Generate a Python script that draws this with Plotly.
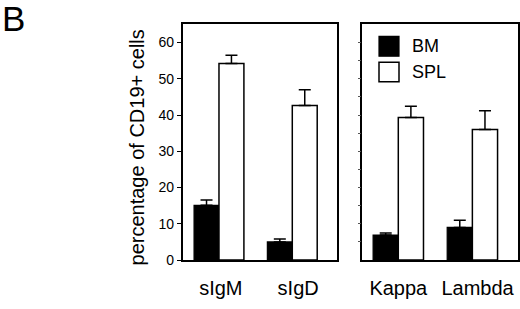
import plotly.graph_objects as go

left_cats = ["sIgM", "sIgD"]
right_cats = ["Kappa", "Lambda"]
bm_left = [15.1, 5.0]
bm_left_err = [1.5, 0.8]
spl_left = [54.2, 42.6]
spl_left_err = [2.3, 4.4]
bm_right = [6.9, 9.0]
bm_right_err = [0.6, 2.0]
spl_right = [39.3, 36.0]
spl_right_err = [3.1, 5.2]

FONT = "Liberation Sans, Arial, Helvetica, sans-serif"
W = 0.34

fig = go.Figure()

def add_pair(cats, bm, bme, spl, sple, xa, ya):
    xs = list(range(len(cats)))
    fig.add_trace(go.Bar(
        x=xs, y=bm, width=W, offset=-W, name="BM",
        marker=dict(color="black", line=dict(color="black", width=1.2)),
        error_y=dict(type="data", array=bme, arrayminus=[0]*len(bme), symmetric=False,
                     color="black", thickness=1.5, width=6),
        xaxis=xa, yaxis=ya, showlegend=False))
    fig.add_trace(go.Bar(
        x=xs, y=spl, width=W, offset=0, name="SPL",
        marker=dict(color="white", line=dict(color="black", width=1.5)),
        error_y=dict(type="data", array=sple, arrayminus=[0]*len(sple), symmetric=False,
                     color="black", thickness=1.5, width=6),
        xaxis=xa, yaxis=ya, showlegend=False))

add_pair(left_cats, bm_left, bm_left_err, spl_left, spl_left_err, "x", "y")
add_pair(right_cats, bm_right, bm_right_err, spl_right, spl_right_err, "x2", "y2")

H = 309.0
ydom = [1 - 267 / H, 1 - 25 / H]
axcommon = dict(showline=True, linecolor="black", linewidth=1.5, mirror=True,
                showgrid=False, zeroline=False)

fig.update_layout(
    width=520, height=309,
    margin=dict(l=0, r=0, t=0, b=0),
    paper_bgcolor="white", plot_bgcolor="white",
    font=dict(family=FONT, color="black"),
    showlegend=False,
    xaxis=dict(domain=[182.7 / 520, 337 / 520], range=[-0.495, 1.61],
               tickvals=[0.025, 1.08], ticktext=left_cats, ticks="",
               tickfont=dict(size=20), ticklabelstandoff=9, **axcommon),
    yaxis=dict(domain=ydom, range=[0, 65], tickvals=[0, 10, 20, 30, 40, 50, 60],
               ticks="outside", ticklen=4, tickwidth=1.2, tickcolor="black",
               tickfont=dict(size=14), **axcommon),
    xaxis2=dict(domain=[362.3 / 520, 518.3 / 520], range=[-0.486, 1.62], anchor="y2",
                tickvals=[0, 1.07], ticktext=right_cats, ticks="",
                tickfont=dict(size=20), ticklabelstandoff=9, **axcommon),
    yaxis2=dict(domain=ydom, range=[0, 65], anchor="x2",
                tickvals=[5, 10, 15, 20, 25, 30, 35, 40, 45, 50, 55, 60],
                ticks="outside", ticklen=3, tickwidth=1, tickcolor="#555",
                showticklabels=False, **axcommon),
)

# y axis title
fig.add_annotation(x=136.7 / 520, y=1 - 151.7 / H, xref="paper", yref="paper",
                   text="percentage of CD19+ cells", showarrow=False, textangle=-90,
                   xanchor="center", yanchor="middle", font=dict(size=20, family=FONT))

# legend drawn as swatches + text inside right panel
fig.add_shape(type="rect", xref="paper", yref="paper",
              x0=379 / 520, x1=399 / 520, y0=1 - 57.7 / H, y1=1 - 37.3 / H,
              fillcolor="black", line=dict(color="black", width=1.2))
fig.add_shape(type="rect", xref="paper", yref="paper",
              x0=379 / 520, x1=399 / 520, y0=1 - 84 / H, y1=1 - 64 / H,
              fillcolor="white", line=dict(color="black", width=1.5))
fig.add_annotation(x=410 / 520, y=1 - 47.5 / H, xref="paper", yref="paper",
                   text="BM", showarrow=False, xanchor="left", yanchor="middle",
                   font=dict(size=18, family=FONT))
fig.add_annotation(x=410 / 520, y=1 - 74 / H, xref="paper", yref="paper",
                   text="SPL", showarrow=False, xanchor="left", yanchor="middle",
                   font=dict(size=18, family=FONT))
fig.add_annotation(x=0, y=1 - 19 / H, xref="paper", yref="paper",
                   text="B", showarrow=False, xanchor="left", yanchor="middle",
                   font=dict(size=35, family=FONT))

fig.write_html(
    "out.html",
    config={"displayModeBar": False},
    post_script="document.body.style.margin='0';document.body.style.overflow='hidden';",
)
